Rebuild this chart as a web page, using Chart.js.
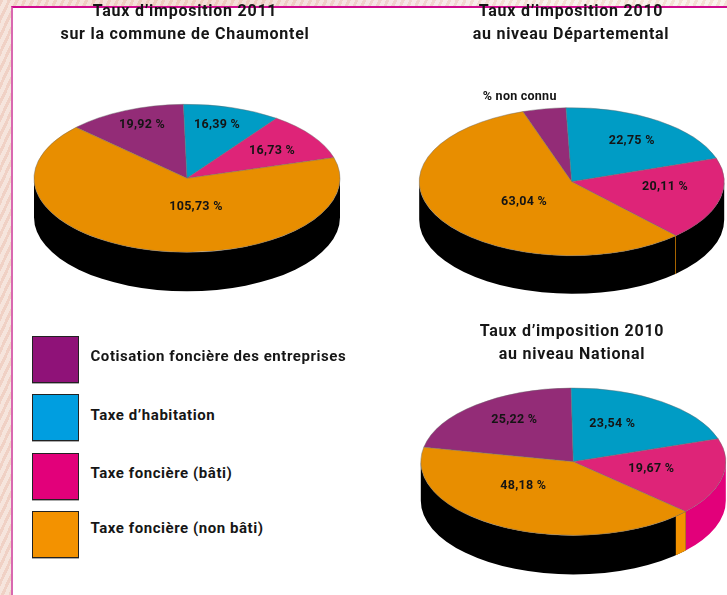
<!DOCTYPE html>
<html lang="fr">
<head>
<meta charset="utf-8">
<title>Taux d’imposition</title>
<script src="https://cdn.jsdelivr.net/npm/chart.js@4"></script>
<style>
html,body{margin:0;padding:0;width:727px;height:595px;overflow:hidden}
body{position:relative;background:
 repeating-linear-gradient(115deg,rgba(230,170,150,.22) 0 3px,rgba(255,255,255,.25) 3px 7px),
 linear-gradient(90deg,#f3dcd2 0,#efd2c8 30%,#f3dde0 55%,#f6eee4 75%,#f8efe6 100%);}
#panel{position:absolute;left:11px;top:6px;width:716px;height:589px;background:#fff;border-left:2px solid #d968b0;border-top:2px solid #cf0a8e;box-sizing:border-box}
canvas{position:absolute}
.sw{position:absolute;left:32px;width:47px;height:47px;box-sizing:border-box;border:1px solid #222;box-shadow:0 1px 0 #aaa}
.lg{position:absolute;left:90.5px;font:700 15px Roboto,sans-serif;letter-spacing:.55px;color:#161616;white-space:nowrap;line-height:20px}
</style>
</head>
<body>
<div id="panel"></div>
<canvas id="c1" width="340" height="340" style="left:15px;top:0"></canvas>
<canvas id="c2" width="326" height="320" style="left:408px;top:0"></canvas>
<canvas id="c3" width="326" height="275" style="left:409px;top:320px"></canvas>
<div id="legend"></div>
<script>
const categories = ['Cotisation foncière des entreprises','Taxe d’habitation','Taxe foncière (bâti)','Taxe foncière (non bâti)'];
const valuesCommune = [19.92, 16.39, 16.73, 105.73];
const valuesDepartement = [5.1, 22.75, 20.11, 63.04];
const valuesNational = [25.22, 23.54, 19.67, 48.18];
const titleCommune = ['Taux d’imposition 2011','sur la commune de Chaumontel'];
const titleDepartement = ['Taux d’imposition 2010','au niveau Départemental'];
const titleNational = ['Taux d’imposition 2010','au niveau National'];
const textDepartement = ['% non connu', null, null, null];

const topColors = ['#932c77','#009cc5','#de2478','#e88e00'];
const legendColors = ['#8f1278','#009ee0','#e2007a','#f39200'];
const BLACK = '#000';

const pie3d = {
  id:'pie3d',
  beforeDraw(chart){ chart.ctx.letterSpacing = '0.75px'; },
  beforeDatasetsDraw(chart,args,o){
    const ctx = chart.ctx, arcs = chart.getDatasetMeta(0).data, a0 = arcs[0];
    const k = o.ry / a0.outerRadius, d = o.depth / k;
    ctx.save();
    ctx.translate(o.cx,o.cy); ctx.scale(1,k); ctx.translate(-a0.x,-a0.y);
    const band = (s,e,color)=>{
      for(const off of [-2*Math.PI,0,2*Math.PI]){
        const a = Math.max(s,off), b = Math.min(e,off+Math.PI);
        if(b<=a) continue;
        ctx.beginPath();
        ctx.arc(a0.x,a0.y,a0.outerRadius,a,b);
        ctx.arc(a0.x,a0.y+d,a0.outerRadius,b,a,true);
        ctx.closePath();
        ctx.fillStyle=color; ctx.fill();
      }
    };
    arcs.forEach((arc,i)=>band(arc.startAngle,arc.endAngle,o.sides[i]));
    if(o.strip){
      const arc = arcs[3];
      band(arc.startAngle,arc.startAngle+o.strip*Math.PI/180,legendColors[3]);
    }
  },
  afterDatasetsDraw(chart,args,o){
    const ctx = chart.ctx;
    ctx.restore();
    const vals = chart.data.datasets[0].data;
    ctx.save();
    ctx.font = '700 12.5px Roboto, sans-serif';
    ctx.letterSpacing = '0.25px';
    ctx.fillStyle = '#141414';
    ctx.textAlign='center'; ctx.textBaseline='middle';
    vals.forEach((v,i)=>{
      const t = (o.texts && o.texts[i]) || v.toFixed(2).replace('.',',')+' %';
      ctx.fillText(t,o.cx+o.spots[i][0],o.cy+o.spots[i][1]);
    });
    ctx.restore();
  }
};

function pie(id,title,values,rotation,opt){
  return new Chart(document.getElementById(id),{
    type:'pie',
    plugins:[pie3d],
    data:{labels:categories,datasets:[{data:values,backgroundColor:topColors,borderColor:'#6b6b6b',borderWidth:.6,clip:false,radius:opt.rx}]},
    options:{
      responsive:false,animation:false,rotation,
      events:[],
      plugins:{
        legend:{display:false},tooltip:{enabled:false},
        title:{display:true,text:title,color:'#161616',padding:{top:opt.titleTop,bottom:0},
          font:{family:'Roboto, sans-serif',size:16,weight:'700',lineHeight:1.44}},
        pie3d:opt
      }
    }
  });
}

pie('c1',titleCommune,valuesCommune,-46.5,{cx:187-15,cy:178.3,rx:153,ry:74,depth:39,
  sides:[BLACK,BLACK,BLACK,BLACK],spots:[[-45,-53],[30,-53],[85,-27],[9,29]]});
pie('c2',titleDepartement,valuesDepartement,-18.7,{cx:571.7-408,cy:181.7,rx:152.5,ry:74,depth:38,
  sides:[BLACK,BLACK,BLACK,BLACK],strip:.35,texts:textDepartement,spots:[[-52,-85],[60,-41],[93.3,5.6],[-47.7,20]]});
pie('c3',titleNational,valuesNational,-78.7,{cx:573.3-409,cy:141.7,rx:152.5,ry:73.7,depth:39,
  sides:[BLACK,BLACK,legendColors[2],BLACK],strip:5.2,spots:[[-59,-42],[39,-38],[78,7],[-50,24]]});

const swatchTops=[336,394,453,511], textMids=[356,414.5,472.5,528];
const lg=document.getElementById('legend');
categories.forEach((c,i)=>{
  const s=document.createElement('div');s.className='sw';s.style.top=swatchTops[i]+'px';s.style.background=legendColors[i];lg.appendChild(s);
  const t=document.createElement('div');t.className='lg';t.style.top=(textMids[i]-10)+'px';t.textContent=c;lg.appendChild(t);
});
</script>
</body>
</html>
